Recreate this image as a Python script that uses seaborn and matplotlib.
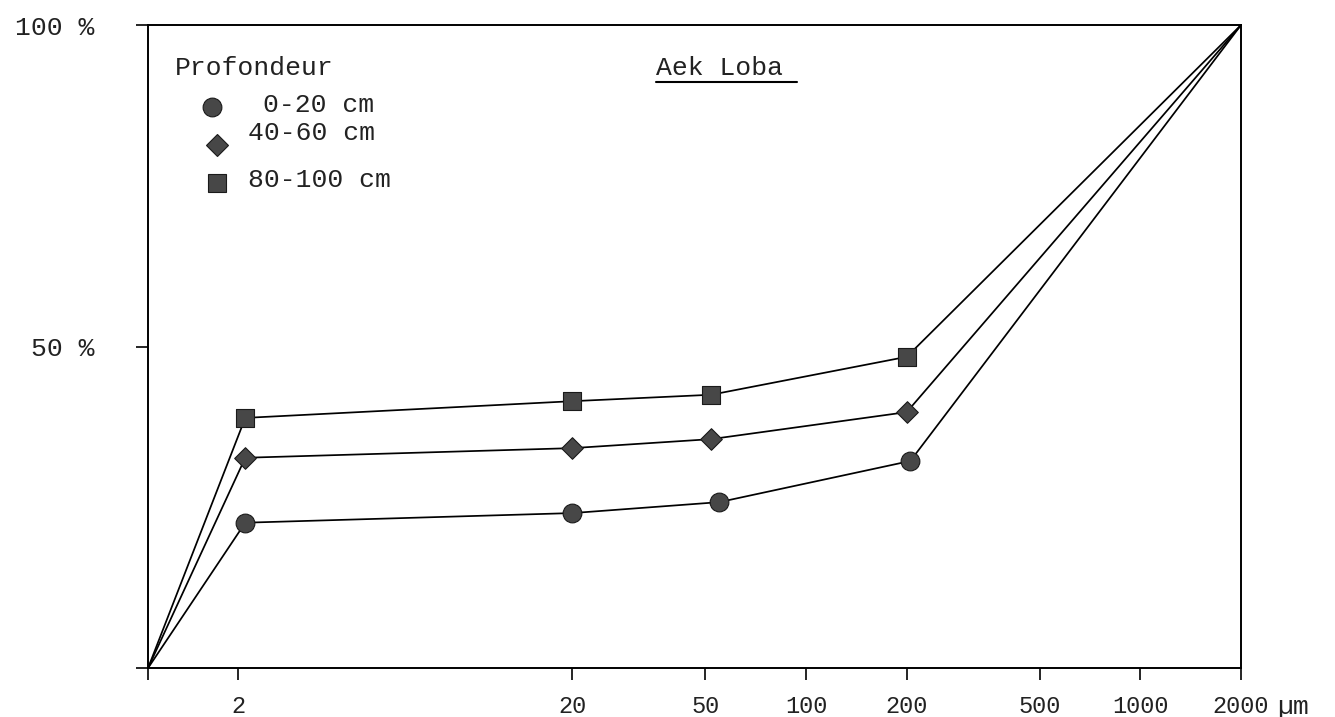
import matplotlib
matplotlib.use("Agg")
import matplotlib.pyplot as plt
import seaborn as sns
import pandas as pd

# Cumulative grain-size curves, Aek Loba profile
depths = ["0-20 cm", "40-60 cm", "80-100 cm"]
x_origin = 1.075          # left end of the size axis (0 %)
x_end = 2000              # all curves reach 100 % at 2000 µm

size_0_20 = [2.1, 20, 55, 205]
cum_0_20 = [22.6, 24.1, 25.8, 32.2]

size_40_60 = [2.1, 20, 52, 200]
cum_40_60 = [32.7, 34.2, 35.6, 39.8]

size_80_100 = [2.1, 20, 52, 200]
cum_80_100 = [38.9, 41.5, 42.5, 48.4]

x_ticks = [2, 20, 50, 100, 200, 500, 1000, 2000]
x_ticklabels = ["2", "20", "50", "100", "200", "500", "1000", "2000"]
y_ticks = [0, 50, 100]
y_ticklabels = ["", "50 %", "100 %"]

sizes = {"0-20 cm": size_0_20, "40-60 cm": size_40_60, "80-100 cm": size_80_100}
cums = {"0-20 cm": cum_0_20, "40-60 cm": cum_40_60, "80-100 cm": cum_80_100}

rows_line, rows_pts = [], []
for d in depths:
    xs = [x_origin] + sizes[d] + [x_end]
    ys = [0] + cums[d] + [100]
    for i, (a, b) in enumerate(zip(xs, ys)):
        rows_line.append({"depth": d, "order": i, "size": a, "cum": b})
    for a, b in zip(sizes[d], cums[d]):
        rows_pts.append({"depth": d, "size": a, "cum": b})
lines = pd.DataFrame(rows_line)
pts = pd.DataFrame(rows_pts)

sns.set_theme(style="ticks")
plt.rcParams["font.family"] = ["Liberation Mono", "DejaVu Sans Mono"]

fig = plt.figure(figsize=(13.35, 7.17), dpi=100)
ax = fig.add_axes([0.1109, 0.0683, 0.8187, 0.8968])

sns.lineplot(data=lines, x="size", y="cum", hue="depth", units="depth",
             estimator=None, sort=False, palette=["black"] * 3,
             linewidth=1.25, legend=False, ax=ax)

marker_style = {"0-20 cm": ("o", 13.5), "40-60 cm": ("D", 11), "80-100 cm": ("s", 13)}
fill = "#474747"
for d in depths:
    m, ms = marker_style[d]
    sns.scatterplot(data=pts[pts["depth"] == d], x="size", y="cum", marker=m,
                    s=ms ** 2, color=fill, edgecolor="#1a1a1a", linewidth=0.8,
                    legend=False, ax=ax, zorder=3)

ax.set_xscale("log")
ax.set_xlim(x_origin, x_end)
ax.set_ylim(0, 100)
ax.set_xticks([x_origin] + x_ticks)
ax.set_xticklabels([""] + x_ticklabels)
ax.minorticks_off()
ax.set_yticks(y_ticks)
ax.set_yticklabels(y_ticklabels)
ax.set_xlabel("")
ax.set_ylabel("")

for s in ax.spines.values():
    s.set_visible(True)
    s.set_linewidth(1.4)
    s.set_color("black")
ax.tick_params(axis="x", direction="out", length=8.6, width=1.2, pad=11,
               labelsize=17, colors="black")
ax.tick_params(axis="y", direction="out", length=8.6, width=1.2, pad=30,
               labelsize=19, colors="black")
for lab in ax.get_xticklabels() + ax.get_yticklabels():
    lab.set_color("#222222")

# unit after the last size label
ax.annotate("µm", xy=(1, 0), xycoords="axes fraction", xytext=(26, -28),
            textcoords="offset points", ha="left", va="center",
            fontsize=19, color="#222222")

# key drawn inside the frame
ax.text(0.0247, 0.933, "Profondeur", transform=ax.transAxes, ha="left",
        va="center", fontsize=19, color="#222222")
key = [("0-20 cm", 0.0586, 0.8725, 0.1052, 0.8756),
       ("40-60 cm", 0.0631, 0.8134, 0.0915, 0.832),
       ("80-100 cm", 0.0631, 0.7543, 0.0915, 0.759)]
for d, mx, my, tx, ty in key:
    m, ms = marker_style[d]
    ax.plot([mx], [my], marker=m, markersize=ms, color=fill,
            markeredgecolor="#1a1a1a", markeredgewidth=0.8,
            transform=ax.transAxes, linestyle="none", clip_on=False)
    ax.text(tx, ty, d, transform=ax.transAxes, ha="left", va="center",
            fontsize=19, color="#222222")

# underlined site name
ax.text(0.4648, 0.933, "Aek Loba", transform=ax.transAxes, ha="left",
        va="center", fontsize=19, color="#222222")
ax.plot([0.4648, 0.5938], [0.9114, 0.9114], color="black", linewidth=1.5,
        transform=ax.transAxes, clip_on=False)

fig.savefig("out.png", dpi=100, facecolor="white")
